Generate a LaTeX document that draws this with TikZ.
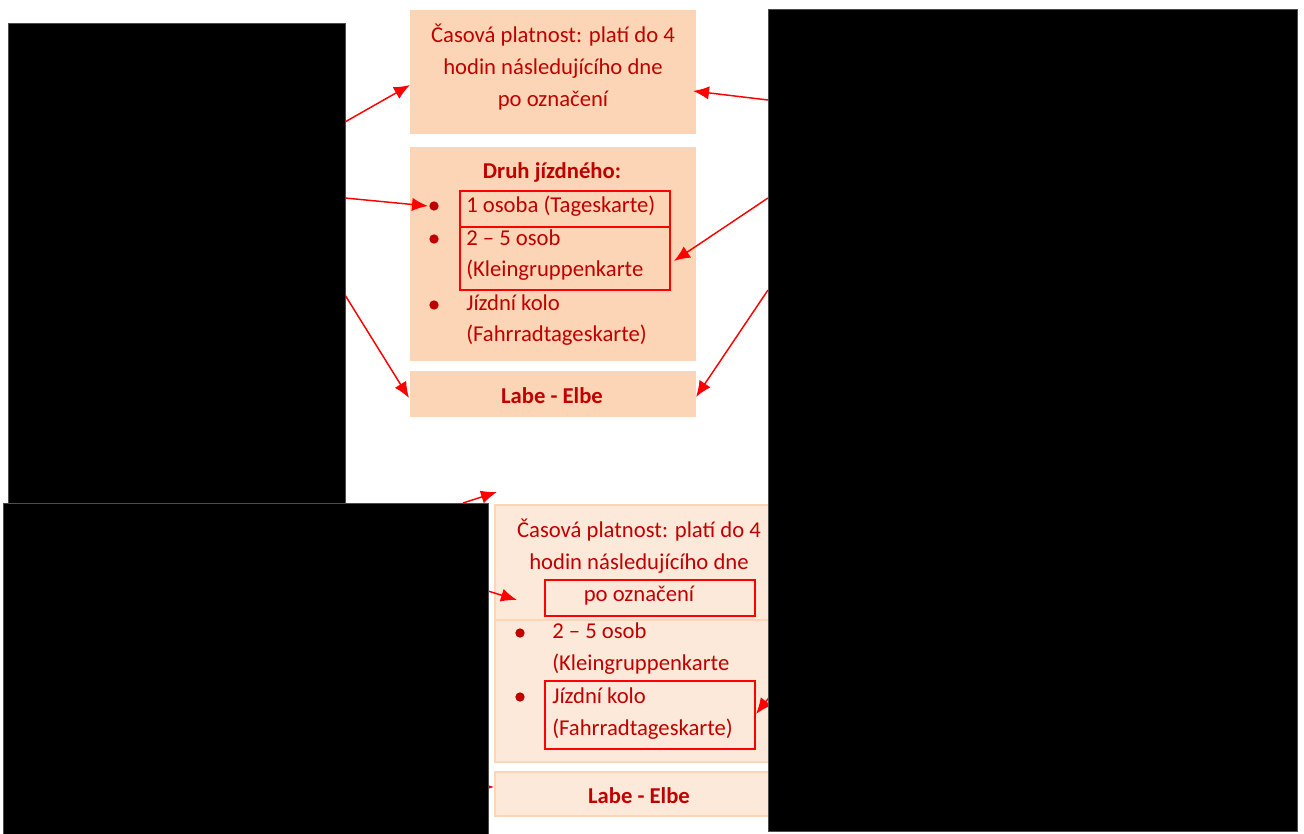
\documentclass[tikz,border=0pt]{standalone}
\usepackage{fontspec}
\setmainfont{Carlito}
\usetikzlibrary{arrows.meta}
\definecolor{txt}{HTML}{C00000}
\definecolor{peach}{HTML}{FBD5B5}
\definecolor{peachlt}{HTML}{FDE9D9}
\definecolor{rred}{HTML}{FF0000}
\begin{document}
\begin{tikzpicture}[x=0.75pt,y=-0.75pt,
  font=\fontsize{17}{20}\selectfont,
  box/.style={anchor=north west, inner sep=0, outer sep=0, fill=peach},
  boxlt/.style={anchor=north west, inner sep=0, outer sep=0, fill=peachlt, draw=peach, line width=1.5pt},
  hl/.style={anchor=north west, inner sep=0, outer sep=0, draw=rred, line width=1.5pt},
  blk/.style={anchor=north west, inner sep=0, outer sep=0, fill=black, draw=black!70, line width=0.75pt},
  lbl/.style={text=txt, inner sep=0, anchor=base},
  itm/.style={text=txt, inner sep=0, anchor=base west},
  bul/.style={circle, fill=txt, inner sep=0, minimum size=7pt},
  arr/.style={draw=rred, line width=1.1pt, -{Latex[length=12pt,width=10pt]}}
]
\useasboundingbox (0,0) rectangle (1304,834);

% upper boxes
\node[box, minimum width=214.5pt, minimum height=93pt] (b1) at (410,10) {};
\node[box, minimum width=214.5pt, minimum height=160.5pt] (b2) at (410,147) {};
\node[box, minimum width=214.5pt, minimum height=34.5pt] (b3) at (410,371) {};

\node[lbl] (t11) at (553,43) {Časová platnost: platí do 4};
\node[lbl] (t12) at (553,75) {hodin následujícího dne};
\node[lbl] (t13) at (553,107) {po označení};

\node[lbl, font=\fontsize{17}{20}\selectfont\bfseries] (t20) at (552,179) {Druh jízdného:};
\node[bul] (u1) at (434,206) {};
\node[bul] (u2) at (434,239) {};
\node[bul] (u3) at (434,305) {};
\node[itm] (t21) at (466,213) {1 osoba (Tageskarte)};
\node[itm] (t22) at (466,246) {2 – 5 osob};
\node[itm] (t23) at (466,277) {(Kleingruppenkarte};
\node[itm] (t24) at (466,311) {Jízdní kolo};
\node[itm] (t25) at (466,342) {(Fahrradtageskarte)};
\node[hl, minimum width=157.5pt, minimum height=27pt] (ha) at (460,191) {};
\node[hl, minimum width=157.5pt, minimum height=47.25pt] (hb) at (460,227) {};

\node[lbl, font=\fontsize{17}{20}\selectfont\bfseries] (t31) at (552,403) {Labe - Elbe};

% lower boxes
\node[boxlt, minimum width=214.5pt, minimum height=86.25pt] (b4) at (495,505) {};
\node[boxlt, minimum width=214.5pt, minimum height=106.5pt] (b5) at (495,620) {};
\node[boxlt, minimum width=214.5pt, minimum height=33pt] (b6) at (495,772) {};

\node[lbl] (t41) at (639,537) {Časová platnost: platí do 4};
\node[lbl] (t42) at (639,569) {hodin následujícího dne};
\node[lbl] (t43) at (639,601) {po označení};
\node[hl, minimum width=157.5pt, minimum height=27pt] (hc) at (545,580) {};

\node[bul] (u4) at (520,633) {};
\node[bul] (u5) at (520,697) {};
\node[itm] (t51) at (552,638) {2 – 5 osob};
\node[itm] (t52) at (552,670) {(Kleingruppenkarte};
\node[itm] (t53) at (552,703) {Jízdní kolo};
\node[itm] (t54) at (552,735) {(Fahrradtageskarte)};
\node[hl, minimum width=157.5pt, minimum height=51pt] (hd) at (545,681) {};

\node[lbl, font=\fontsize{17}{20}\selectfont\bfseries] (t61) at (639,803) {Labe - Elbe};

% arrow end points
\coordinate (s1) at (345,122); \coordinate (e1) at (410,85);
\coordinate (s2) at (345,198); \coordinate (e2) at (428,206);
\coordinate (s3) at (345,295); \coordinate (e3) at (409,398);
\coordinate (s4) at (768,100); \coordinate (e4) at (693,91);
\coordinate (s5) at (768,198); \coordinate (e5) at (674,261);
\coordinate (s6) at (768,290); \coordinate (e6) at (696,397);
\coordinate (s7) at (463,503); \coordinate (e7) at (497,492);
\coordinate (s8) at (488,591); \coordinate (e8) at (517,600);
\coordinate (s9) at (775,690); \coordinate (e9) at (756,714);
\coordinate (s10) at (460,787); \coordinate (e10) at (494,787);

\draw[arr] (s1) -- (e1);
\draw[arr] (s2) -- (e2);
\draw[arr] (s3) -- (e3);
\draw[arr] (s4) -- (e4);
\draw[arr] (s5) -- (e5);
\draw[arr] (s6) -- (e6);
\draw[arr] (s7) -- (e7);
\draw[arr] (s8) -- (e8);
\draw[arr] (s9) -- (e9);
\draw[arr] (s10) -- (e10);

% black panels
\node[blk, minimum width=252.75pt, minimum height=359.25pt] (k1) at (8,24) {};
\node[blk, minimum width=363.75pt, minimum height=248.25pt] (k2) at (3,503) {};
\node[blk, minimum width=396.75pt, minimum height=615.75pt] (k3) at (768,10) {};
\end{tikzpicture}
\end{document}
